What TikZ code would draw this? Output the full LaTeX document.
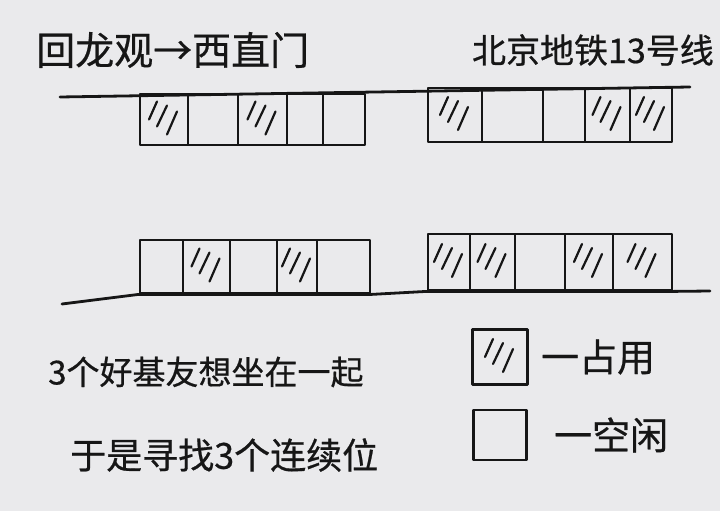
\documentclass[tikz,border=0pt]{standalone}
\usepackage{fontspec}
\newfontfamily\cjk[FakeBold=0.6]{Noto Sans CJK SC}
\usepackage{tikz}
\usetikzlibrary{positioning}
\definecolor{paper}{RGB}{234,234,236}
\definecolor{ink}{RGB}{22,22,22}

\begin{document}
\begin{tikzpicture}[x=1pt,y=-1pt,line cap=round,line join=round]
\tikzstyle{seat}=[draw=ink, line width=2.8pt, rectangle, inner sep=0pt]
\tikzstyle{hatch}=[draw=ink, line width=2.2pt]
\tikzstyle{occupied}=[path picture={
  \draw[hatch] (path picture bounding box.center) ++(-15,0) -- ++(8,-18);
  \draw[hatch] (path picture bounding box.center) ++(-7,7) -- ++(10,-21);
  \draw[hatch] (path picture bounding box.center) ++(3,15) -- ++(10,-23);}]
\tikzstyle{vacant}=[]
\tikzstyle{label}=[ink, inner sep=0pt, font=\cjk]

\fill[paper] (0,0) rectangle (720,511);
\useasboundingbox (0,0) rectangle (720,511);

% titles
\node[label, anchor=west, font=\cjk\fontsize{39}{41}\selectfont] (route) at (36,50) {回龙观→西直门};
\node[label, anchor=east, font=\cjk\fontsize{34}{36}\selectfont] (line) at (714,50) {北京地铁13号线};

% upper row
\coordinate (ua) at (60,97);
\coordinate (ub) at (690,87);
\draw[ink, line width=2.8pt] (ua) -- (ub);
\foreach \x/\w/\s [count=\i] in {140/48/occupied, 188/50/vacant, 238/49/occupied, 287/36/vacant, 323/42/vacant}
  \node[seat, \s, minimum width=\w pt, minimum height=51pt] (u\i) at (\x+\w/2,119.5) {};
\foreach \x/\w/\s [count=\i] in {428/54/occupied, 482/61/vacant, 543/42/vacant, 585/45/occupied, 630/42/occupied}
  \node[seat, \s, minimum width=\w pt, minimum height=54pt] (v\i) at (\x+\w/2,115) {};

% lower row
\foreach \x/\w/\s [count=\i] in {140/43/vacant, 183/47/occupied, 230/47/vacant, 277/40/occupied, 317/53/vacant}
  \node[seat, \s, minimum width=\w pt, minimum height=53pt] (l\i) at (\x+\w/2,266.5) {};
\foreach \x/\w/\s [count=\i] in {428/42/occupied, 470/45/occupied, 515/50/vacant, 565/48/occupied, 613/59/occupied}
  \node[seat, \s, minimum width=\w pt, minimum height=56pt] (m\i) at (\x+\w/2,262) {};
\coordinate (la) at (62,304);
\coordinate (lb) at (710,291);
\draw[ink, line width=2.8pt] (la) -- (l1.south west) -- (l5.south east) -- (m1.south west) -- (m5.south east) -- (lb);

% notes
\node[label, anchor=west, font=\cjk\fontsize{33}{35}\selectfont] (note1) at (48,372) {3个好基友想坐在一起};
\node[label, anchor=west, font=\cjk\fontsize{36}{38}\selectfont] (note2) at (70,455) {于是寻找3个连续位};

% legend
\node[seat, occupied, minimum width=55pt, minimum height=55pt] (kocc) at (500,357) {};
\node[seat, vacant, minimum width=53pt, minimum height=50pt] (kfree) at (500,435) {};
\node[label, right=12pt of kocc, font=\cjk\fontsize{38}{40}\selectfont] (tocc) {一占用};
\node[label, right=26pt of kfree, font=\cjk\fontsize{38}{40}\selectfont] (tfree) {一空闲};
\end{tikzpicture}
\end{document}
